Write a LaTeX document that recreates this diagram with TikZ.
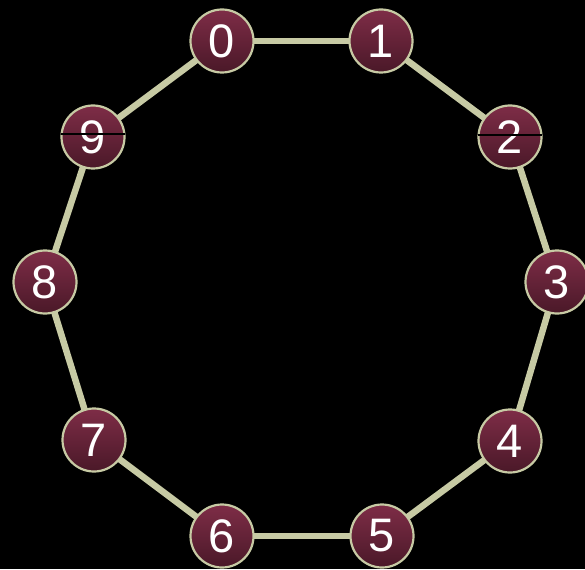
\documentclass[tikz,border=0pt]{standalone}
\usepackage{fontspec}
\setmainfont{Liberation Sans}
\begin{document}
\begin{tikzpicture}[x=1pt,y=-1pt,
  vnode/.style={circle,minimum size=63pt,inner sep=0pt,top color=nodetop,bottom color=nodebot,
    draw=rim,line width=2.2pt,text=white,font=\fontsize{47}{47}\selectfont},
  edge/.style={draw=rim,line width=6.5pt}]
\definecolor{nodetop}{HTML}{7E2D47}
\definecolor{nodebot}{HTML}{4A1828}
\definecolor{rim}{HTML}{C7CAA4}
\fill[black] (0,0) rectangle (585,569);
\useasboundingbox (0,0) rectangle (585,569);
\coordinate (c0) at (222,41);
\coordinate (c1) at (381,41);
\coordinate (c2) at (510,137);
\coordinate (c3) at (557,282);
\coordinate (c4) at (510,441);
\coordinate (c5) at (382,536);
\coordinate (c6) at (222,536);
\coordinate (c7) at (94,440);
\coordinate (c8) at (45,282);
\coordinate (c9) at (93,137);
\foreach \i/\j in {0/1,1/2,2/3,3/4,4/5,5/6,6/7,7/8,8/9,9/0}
  \draw[edge] (c\i) -- (c\j);
\foreach \i in {0,...,9}
  \node[vnode] (n\i) at (c\i) {\i};
\draw[black,line width=1.3pt] ([xshift=-32pt,yshift=3pt]n9.center) -- ([xshift=32pt,yshift=3pt]n9.center);
\draw[black,line width=1.3pt] ([xshift=-32pt,yshift=2pt]n2.center) -- ([xshift=32pt,yshift=2pt]n2.center);
\end{tikzpicture}
\end{document}
